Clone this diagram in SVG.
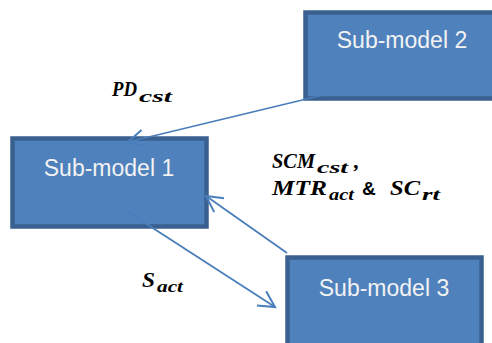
<svg xmlns="http://www.w3.org/2000/svg" width="492" height="343" viewBox="0 0 492 343">
<defs>
<marker id="arr" markerUnits="userSpaceOnUse" markerWidth="24" markerHeight="24" viewBox="-20 -12 24 24" refX="0" refY="0" orient="auto">
<path d="M -16 -8.5 L 0 0 L -16 8.5" fill="none" stroke="#4a7ebb" stroke-width="2"/>
</marker>
</defs>
<style>
.box{fill:#4f81bd;stroke:#3a6090;stroke-width:4.5}
.lbl{font-family:"Liberation Sans",Arial,sans-serif;font-size:23px;fill:#f2f2f2;text-anchor:middle}
.conn{fill:none;stroke:#4a7ebb;stroke-width:1.8;marker-end:url(#arr)}
.math{font-family:"Liberation Serif","Times New Roman",serif;font-weight:bold;font-style:italic;font-size:22px;fill:#000}
.sub{font-size:17px}
.amp{font-family:"Liberation Sans",Arial,sans-serif;font-style:normal;font-weight:bold;font-size:19px}
</style>
<rect width="492" height="343" fill="#fff"/>
<g id="node1">
<rect class="box" x="12.5" y="138.5" width="194" height="88"/>
<text class="lbl" x="109" y="176">Sub-model 1</text>
</g>
<g id="node2">
<rect class="box" x="305.5" y="12.5" width="200" height="86"/>
<text class="lbl" x="402" y="48">Sub-model 2</text>
</g>
<g id="node3">
<rect class="box" x="287.5" y="257.5" width="194" height="90"/>
<text class="lbl" x="384" y="296">Sub-model 3</text>
</g>
<g id="connectors">
<line class="conn" x1="323" y1="95" x2="128" y2="142"/>
<line class="conn" x1="287" y1="253" x2="206" y2="196"/>
<line class="conn" x1="128" y1="212" x2="275" y2="307"/>
</g>
<g id="labels">
<text class="math"><tspan x="112" y="96" textLength="25" lengthAdjust="spacingAndGlyphs">PD</tspan><tspan class="sub" x="139" y="102" textLength="33" lengthAdjust="spacingAndGlyphs">cst</tspan></text>
<text class="math"><tspan x="272" y="168" textLength="43" lengthAdjust="spacingAndGlyphs">SCM</tspan><tspan class="sub" x="317" y="173" textLength="31" lengthAdjust="spacingAndGlyphs">cst</tspan><tspan x="354" y="168">,</tspan></text>
<text class="math"><tspan x="272" y="195" textLength="55" lengthAdjust="spacingAndGlyphs">MTR</tspan><tspan class="sub" x="329" y="200" textLength="25" lengthAdjust="spacingAndGlyphs">act</tspan><tspan class="amp" x="362" y="195">&amp;</tspan><tspan x="390" y="195" textLength="30" lengthAdjust="spacingAndGlyphs">SC</tspan><tspan class="sub" x="422" y="200" textLength="18" lengthAdjust="spacingAndGlyphs">rt</tspan></text>
<text class="math"><tspan x="142" y="287" textLength="13" lengthAdjust="spacingAndGlyphs">S</tspan><tspan class="sub" x="157" y="292" textLength="26" lengthAdjust="spacingAndGlyphs">act</tspan></text>
</g>
</svg>
